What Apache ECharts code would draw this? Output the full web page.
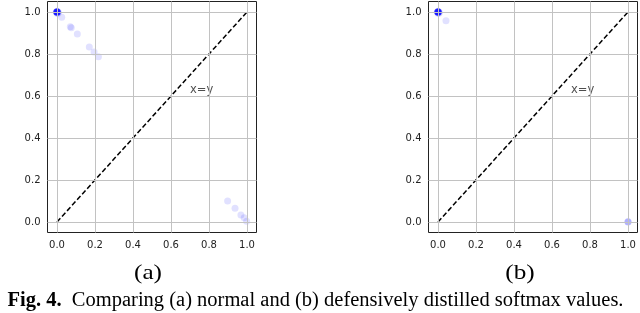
<!DOCTYPE html>
<html><head><meta charset="utf-8">
<script src="https://cdn.jsdelivr.net/npm/echarts@6/dist/echarts.min.js"></script>
<style>html,body{margin:0;padding:0;background:#fff}#c{width:640px;height:313px}</style>
</head><body><div id="c"></div>
<script>
// tick values shared by both panels
const tickValues = [0, 0.2, 0.4, 0.6, 0.8, 1.0];
// identity reference line
const identityLine = [[0, 0], [1, 1]];
const identityLabelPos = [[0.7, 0.6]];
const identityLabel = 'x=y';
// (a) normal softmax values
const normalPoints = [
  [0,1],[0,1],[0,1],[0,1],[0,1],[0,1],[0,1],[0,1],[0,1],[0,1],[0,1],[0,1],[0,1],[0,1],
  [0.006,1],[0,0.994],[0.006,0.994],[0.004,1],[0,0.996],[-0.004,1],[0,1.004],
  [0.025,0.975],[0.07,0.93],[0.075,0.925],[0.107,0.895],
  [0.17,0.833],[0.195,0.81],[0.218,0.787],
  [0.898,0.10],[0.937,0.065],[0.968,0.033],[0.985,0.02],[0.998,0.003]
];
// (b) defensively distilled softmax values
const distilledPoints = [
  [0,1],[0,1],[0,1],[0,1],[0,1],[0,1],[0,1],[0,1],[0,1],[0,1],[0,1],[0,1],[0,1],[0,1],
  [0.006,1],[0,0.994],[0.006,0.994],[0.004,1],[0,0.996],[-0.004,1],[0,1.004],
  [0.042,0.958],
  [1,0],[1,0],[1,0.002]
];
const panelLabels = ['(a)', '(b)'];
const captionBold = 'Fig. 4.';
const captionText = 'Comparing (a) normal and (b) defensively distilled softmax values.';

const chart = echarts.init(document.getElementById('c'), null, {renderer: 'canvas'});
const tickFont = {fontFamily: 'DejaVu Sans', fontSize: 10, color: '#222'};
function axisDef(gi) {
  return {gridIndex: gi, type: 'value', min: -0.05, max: 1.05,
    axisLine: {show: false}, splitLine: {show: false},
    axisTick: {show: true, customValues: tickValues, length: 3.5, inside: false, lineStyle: {color: '#222'}},
    axisLabel: Object.assign({customValues: tickValues, margin: 7, formatter: v => v.toFixed(1)}, tickFont)};
}
function panelSeries(gi, pts) {
  return [
    {type: 'line', xAxisIndex: gi, yAxisIndex: gi, data: [], z: 1, silent: true,
     markLine: {silent: true, symbol: 'none', animation: false, label: {show: false},
       lineStyle: {color: '#c2c2c2', type: 'solid', width: 1},
       data: tickValues.map(v => ({xAxis: v})).concat(tickValues.map(v => ({yAxis: v})))}},
    {type: 'scatter', xAxisIndex: gi, yAxisIndex: gi, data: pts, symbolSize: 7, z: 2,
     itemStyle: {color: 'rgba(0,0,255,0.15)', borderWidth: 0}},
    {type: 'line', xAxisIndex: gi, yAxisIndex: gi, data: identityLine, symbol: 'none', z: 3,
     lineStyle: {color: '#000', width: 1.5, type: [5, 2.5]}},
    {type: 'scatter', xAxisIndex: gi, yAxisIndex: gi, data: identityLabelPos, symbolSize: 0, z: 4,
     label: {show: true, formatter: identityLabel, position: [0, 0], align: 'left', verticalAlign: 'bottom',
       fontFamily: 'DejaVu Sans', fontSize: 11.5, color: '#222'}}
  ];
}
const xAxes = [0, 1].map(i => { const a = axisDef(i); a.axisLabel.margin = 8; return a; });
const yAxes = [0, 1].map(i => axisDef(i));
chart.setOption({
  animation: false,
  grid: [
    {left: 47.5, top: 1.5, width: 209, height: 231, show: true, borderColor: '#222', borderWidth: 1, backgroundColor: 'transparent'},
    {left: 428.5, top: 1.5, width: 209, height: 231, show: true, borderColor: '#222', borderWidth: 1, backgroundColor: 'transparent'}
  ],
  xAxis: xAxes,
  yAxis: yAxes,
  title: [
    {text: '{b|' + captionBold + '}  ' + captionText, left: 315.5, top: 290, textAlign: 'center', padding: 0,
     textStyle: {fontFamily: 'Liberation Serif', fontSize: 20.5, fontWeight: 'normal', color: '#000',
       rich: {b: {fontFamily: 'Liberation Serif', fontSize: 20.5, fontWeight: 'bold', color: '#000'}}}}
  ],
  graphic: [
    {type: 'text', x: 148, y: 273, scaleX: 1.2, style: {text: panelLabels[0], fill: '#000',
      font: '21px "Liberation Serif"', textAlign: 'center', textVerticalAlign: 'middle'}},
    {type: 'text', x: 520, y: 273, scaleX: 1.2, style: {text: panelLabels[1], fill: '#000',
      font: '21px "Liberation Serif"', textAlign: 'center', textVerticalAlign: 'middle'}}
  ],
  series: panelSeries(0, normalPoints).concat(panelSeries(1, distilledPoints))
});
</script></body></html>
